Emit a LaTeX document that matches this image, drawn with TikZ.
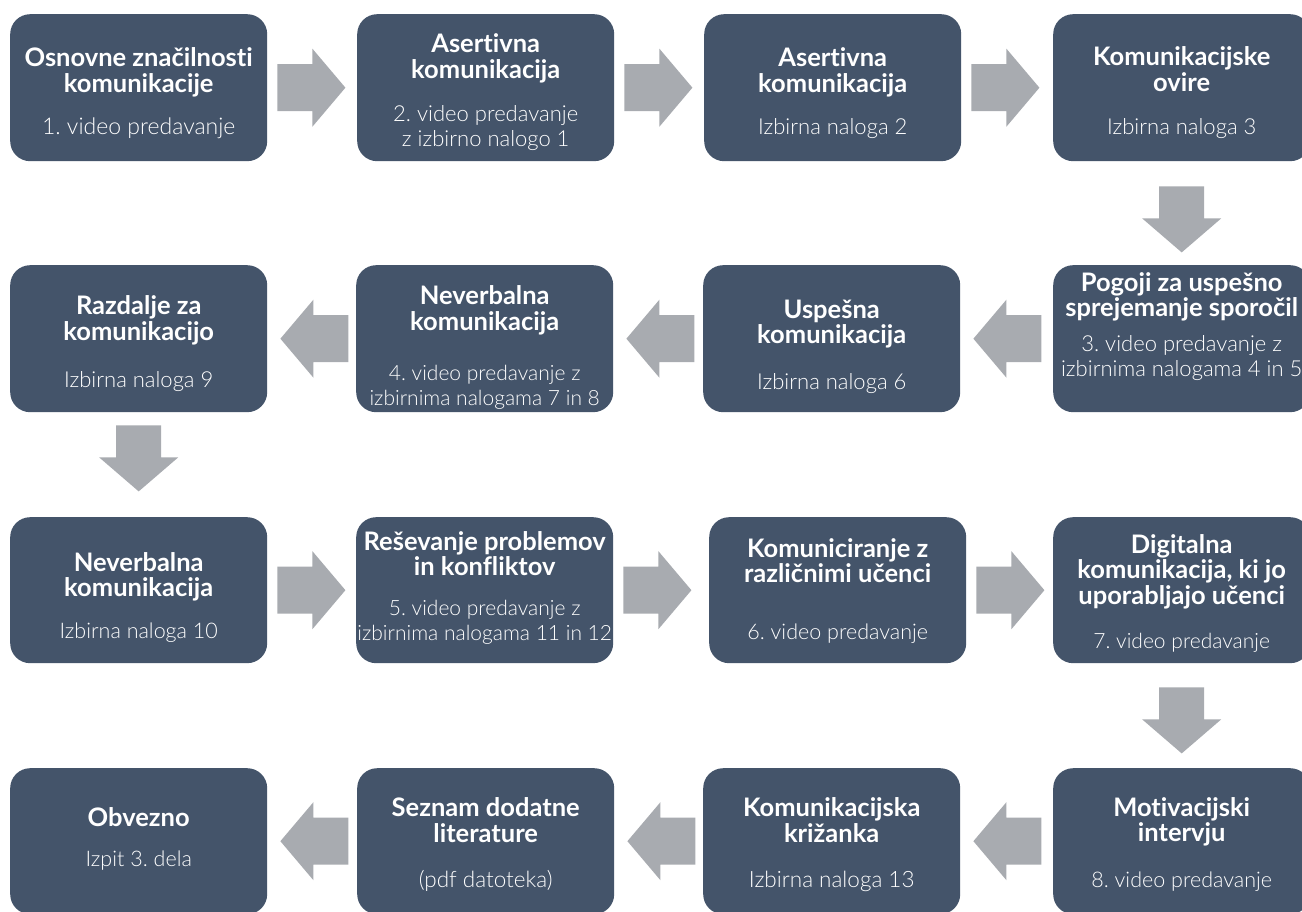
\documentclass[tikz,border=0pt]{standalone}
\usepackage{fontspec}
\setmainfont{Lato}[Ligatures={NoCommon}]
\IfFontExistsTF{Lato Light}{\newfontfamily\sublight{Lato Light}[Ligatures={NoCommon}]}{\newfontfamily\sublight{Lato}[Ligatures={NoCommon}]}
\usetikzlibrary{calc}
\frenchspacing
\definecolor{boxc}{RGB}{68,84,106}
\definecolor{arrc}{RGB}{168,171,176}
\newcommand\ttlfont{\fontsize{25.5}{23.5}\selectfont\bfseries}
\newcommand\subfnt[1]{\sublight\fontsize{#1}{25}\selectfont}
\tikzset{
  boxst/.style={fill=boxc, rounded corners=20pt, draw=none, minimum width=257pt, inner sep=0pt, anchor=north west},
  txtst/.style={text=white, inner sep=0pt, anchor=base},
  arrst/.style={fill=arrc, draw=none},
}
% name, x, y, height, title offset, title, sub offset, sub, sub size
\newcommand\stepbox[9]{%
  \node[boxst, minimum height=#4pt] (#1) at (#2,#3) {};
  \node[txtst] (#1-t) at ([yshift=-#5pt]#1.north) {\ttlfont\frenchspacing\begin{tabular}[t]{@{}c@{}}#6\end{tabular}};
  \node[txtst] (#1-s) at ([yshift=-#7pt]#1.north) {\subfnt{#9}\frenchspacing\begin{tabular}[t]{@{}c@{}}#8\end{tabular}};
}
\newcommand\rarr[2]{%
  \fill[arrst] ($(#1.east)+(10,-23.5)$) -- ++(35,0) -- ++(0,-15.5) -- ++(33,39) -- ++(-33,39) -- ++(0,-15.5) -- ++(-35,0) -- cycle;
}
\newcommand\larr[2]{%
  \fill[arrst] ($(#2.east)+(13,0)$) -- ++(33,-39) -- ++(0,15.5) -- ++(35,0) -- ++(0,47) -- ++(-35,0) -- ++(0,15.5) -- cycle;
}
\newcommand\darr[3]{%
  \fill[arrst] ($(#1.south)+(-22.5,#3)$) -- ++(45,0) -- ++(0,32) -- ++(17,0) -- ++(-39.5,34) -- ++(-39.5,-34) -- ++(17,0) -- cycle;
}
\begin{document}
\begin{tikzpicture}[x=1pt,y=-1pt]
\useasboundingbox (0,0) rectangle (1302,912);
\fill[white] (0,0) rectangle (1302,912);
\clip (0,0) rectangle (1302,912);
% row 1
\stepbox{b1}{10}{14}{147}{53}{Osnovne značilnosti\\komunikacije}{121}{1. video predavanje}{23}
\stepbox{b2}{357}{14}{147}{39}{Asertivna\\komunikacija}{108}{2. video predavanje\\z izbirno nalogo 1}{22}
\stepbox{b3}{704}{14}{147}{53}{Asertivna\\komunikacija}{121}{Izbirna naloga 2}{22}
\stepbox{b4}{1053}{14}{147}{52}{Komunikacijske\\ovire}{121}{Izbirna naloga 3}{22}
% row 2
\stepbox{b5}{1053}{265}{147}{26}{Pogoji za uspešno\\sprejemanje sporočil}{86}{3. video predavanje z\\izbirnima nalogama 4 in 5}{22}
\stepbox{b6}{703}{265}{147}{53}{Uspešna\\komunikacija}{124}{Izbirna naloga 6}{22}
\stepbox{b7}{356}{265}{147}{40}{Neverbalna\\komunikacija}{115}{4. video predavanje z\\izbirnima nalogama 7 in 8}{21}
\stepbox{b8}{10}{265}{147}{50}{Razdalje za\\komunikacijo}{122}{Izbirna naloga 9}{22}
% row 3
\stepbox{b9}{10}{517}{146}{54}{Neverbalna\\komunikacija}{121}{Izbirna naloga 10}{21.5}
\stepbox{b10}{356}{517}{146}{33}{Reševanje problemov\\in konfliktov}{98}{5. video predavanje z\\izbirnima nalogama 11 in 12}{21}
\stepbox{b11}{709}{517}{146}{40}{Komuniciranje z\\različnimi učenci}{122}{6. video predavanje}{21.5}
\stepbox{b12}{1053}{517}{146}{36}{Digitalna\\komunikacija, ki jo\\uporabljajo učenci}{131}{7. video predavanje}{21}
% row 4
\stepbox{b13}{1053}{768}{146}{48}{Motivacijski\\intervju}{119}{8. video predavanje}{21.5}
\stepbox{b14}{703}{768}{146}{48}{Komunikacijska\\križanka}{119}{Izbirna naloga 13}{22.5}
\stepbox{b15}{357}{768}{146}{48}{Seznam dodatne\\literature}{119}{(pdf datoteka)}{22.5}
\stepbox{b16}{10}{768}{146}{58}{Obvezno}{98}{Izpit 3. dela}{21.5}
% arrows
\rarr{b1}{b2}\rarr{b2}{b3}\rarr{b3}{b4}
\darr{b4}{b5}{25}
\larr{b5}{b6}\larr{b6}{b7}\larr{b7}{b8}
\darr{b8}{b9}{13}
\rarr{b9}{b10}\rarr{b10}{b11}\rarr{b11}{b12}
\darr{b12}{b13}{24}
\larr{b13}{b14}\larr{b14}{b15}\larr{b15}{b16}
\end{tikzpicture}
\end{document}
